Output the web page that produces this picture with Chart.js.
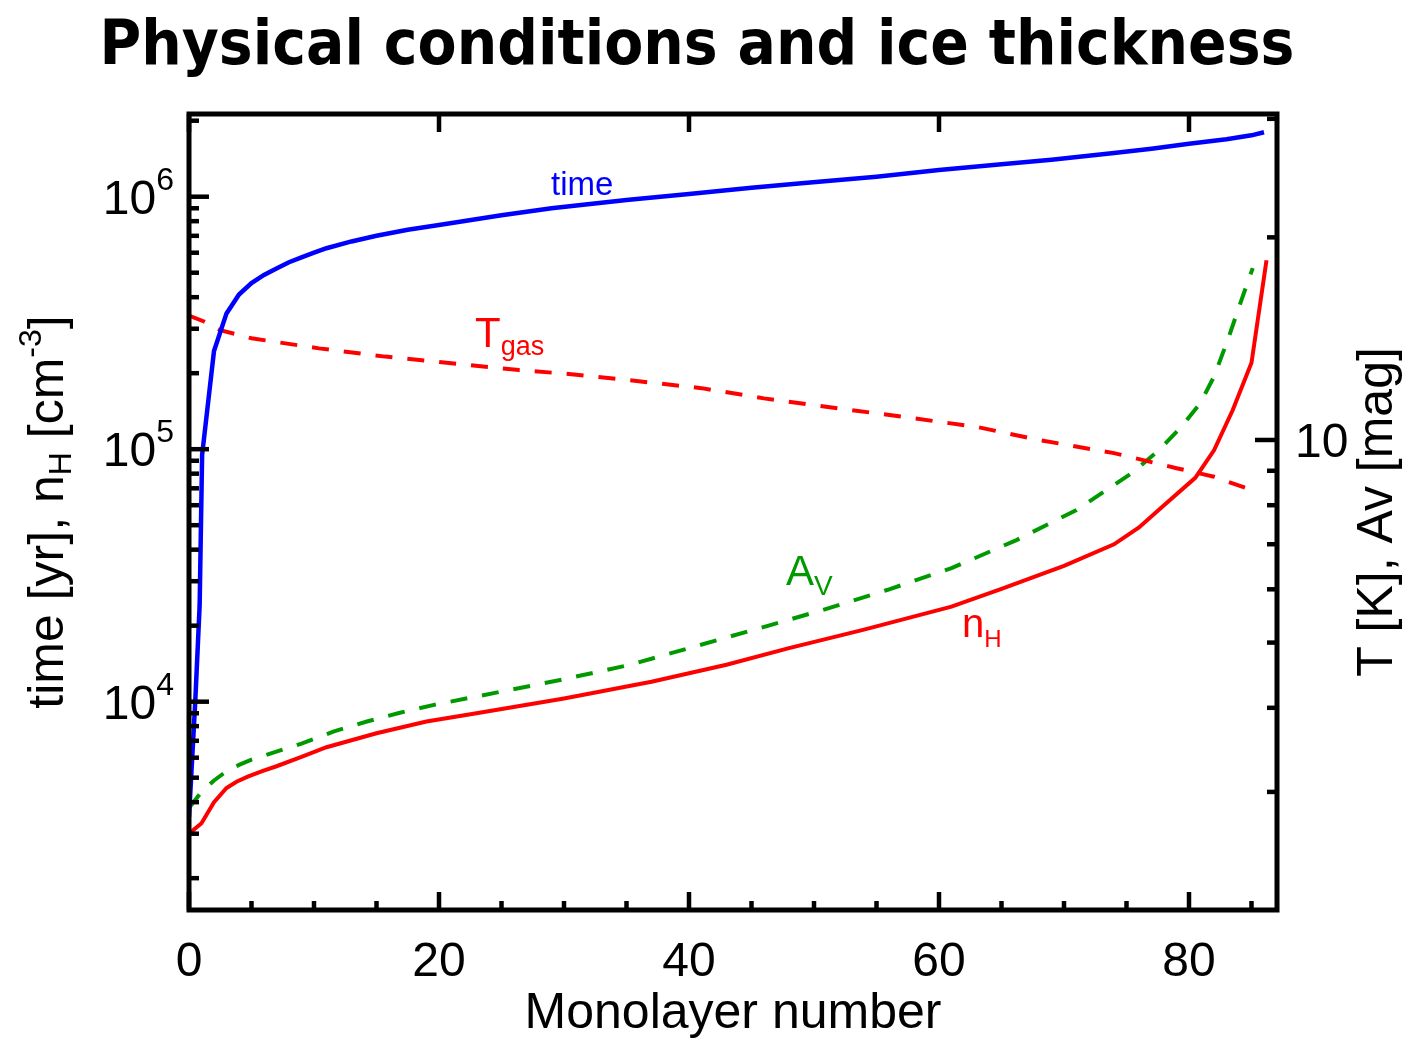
<!DOCTYPE html>
<html>
<head>
<meta charset="utf-8">
<title>Physical conditions and ice thickness</title>
<script src="https://cdn.jsdelivr.net/npm/chart.js@4.4.0/dist/chart.umd.min.js"></script>
<style>
  body { margin: 0; background: #fff; }
  canvas { display: block; }
</style>
</head>
<body>
<canvas id="chart" width="1422" height="1039"></canvas>
<script>

// time [yr] vs monolayer
const timeLayer = [0, 0.5, 0.85, 1.05, 2, 3, 4, 5, 6, 7, 8, 9, 10, 11, 13, 15, 17.5, 20, 25, 29, 35, 40, 45, 49, 55, 60, 65, 69, 74, 77, 80, 83, 85, 86]
const timeYears = [3500, 10000, 24000, 95000, 245000, 345000, 410000, 455000, 490000, 520000, 550000, 575000, 600000, 625000, 665000, 700000, 740000, 772000, 845000, 900000, 970000, 1026000, 1085000, 1130000, 1200000, 1276000, 1345000, 1400000, 1490000, 1550000, 1620000, 1690000, 1750000, 1800000]

// n_H [cm-3]
const nhLayer = [0, 1, 2, 3, 3.8, 4.7, 5.8, 7, 9, 11, 15, 19, 23, 30, 37, 43, 48, 54, 61, 65, 70, 74, 76, 78, 80.5, 82, 83.5, 85, 86.2]
const nhDensity = [3000, 3300, 4000, 4550, 4820, 5050, 5300, 5550, 6050, 6600, 7500, 8350, 9000, 10300, 12000, 14000, 16300, 19300, 23800, 28000, 34500, 42000, 49000, 60000, 77000, 99000, 143000, 220000, 560000]

// T_gas [K]
const tgasLayer = [0, 1.2, 2.5, 5, 10.4, 15.7, 21, 26.4, 30, 35, 41, 46, 52, 57, 63, 68, 74, 79, 80.5, 82, 85.2]
const tgasKelvin = [15.3, 15.0, 14.56, 14.16, 13.68, 13.3, 13.0, 12.7, 12.55, 12.28, 11.94, 11.53, 11.14, 10.83, 10.46, 10.0, 9.56, 9.08, 8.95, 8.82, 8.4]

// A_V [mag]
const avLayer = [0, 1, 2, 3, 4, 5, 6.5, 9, 11.6, 14.3, 16.8, 19.6, 29.7, 35.2, 40.4, 45.6, 50.7, 55.9, 61, 66.2, 71, 75.4, 77.6, 79.4, 80.9, 82, 83.1, 84.2, 85.1]
const avMag = [2.84, 3.0, 3.12, 3.22, 3.29, 3.35, 3.42, 3.54, 3.69, 3.82, 3.93, 4.04, 4.40, 4.63, 4.93, 5.25, 5.59, 5.99, 6.45, 7.10, 7.87, 8.92, 9.66, 10.47, 11.34, 12.42, 14.08, 16.15, 18.0]

// axis ticks
const xMajor = [0, 20, 40, 60, 80]
const xMinorStep = 5
const leftDecades = [3, 4, 5, 6]
const leftLabelled = [4, 5, 6]
const rightLabels = [10]

const sans = "'Liberation Sans', Arial, Helvetica, sans-serif"

function pts(xs, ys) {
  return xs.map((x, i) => ({ x: x, y: ys[i] }))
}

function runWidth(ctx, runs) {
  let w = 0
  runs.forEach(r => {
    ctx.font = `${r[1]}px ${sans}`
    w += ctx.measureText(r[0]).width
  })
  return w
}

// draws a row of text pieces, each with its own size and baseline shift (sub/superscripts)
function drawRuns(ctx, runs, x, y, align) {
  let cx = x
  if (align === 'center') cx = x - runWidth(ctx, runs) / 2
  if (align === 'right') cx = x - runWidth(ctx, runs)
  ctx.textAlign = 'left'
  ctx.textBaseline = 'alphabetic'
  runs.forEach(r => {
    ctx.font = `${r[1]}px ${sans}`
    ctx.fillText(r[0], cx, y + r[2])
    cx += ctx.measureText(r[0]).width
  })
}

const frame = {
  id: 'frame',
  afterDatasetsDraw(chart) {
    const { ctx, chartArea: a, scales } = chart
    const x = scales.x, yl = scales.y, yr = scales.y2

    ctx.save()
    ctx.strokeStyle = '#000'
    ctx.fillStyle = '#000'
    ctx.lineWidth = 4.5
    ctx.lineCap = 'butt'

    const tick = (x1, y1, x2, y2) => {
      ctx.beginPath()
      ctx.moveTo(x1, y1)
      ctx.lineTo(x2, y2)
      ctx.stroke()
    }

    // bottom + top ticks
    for (let v = 0; v <= x.max; v += xMinorStep) {
      const px = x.getPixelForValue(v)
      const major = xMajor.includes(v)
      tick(px, a.bottom, px, a.bottom - (major ? 18 : 9))
      if (major) tick(px, a.top, px, a.top + 18)
    }

    // left log ticks
    leftDecades.forEach(e => {
      for (let m = 1; m <= 9; m++) {
        const v = m * Math.pow(10, e)
        if (v < yl.min || v > yl.max) continue
        const py = yl.getPixelForValue(v)
        tick(a.left, py, a.left + (m === 1 ? 20 : 10), py)
      }
    })

    // right log ticks
    ;[0, 1].forEach(e => {
      for (let m = 1; m <= 9; m++) {
        const v = m * Math.pow(10, e)
        if (v < yr.min || v > yr.max) continue
        const py = yr.getPixelForValue(v)
        tick(a.right, py, a.right - (m === 1 ? 22 : 10), py)
      }
    })

    ctx.lineWidth = 5
    ctx.strokeRect(a.left, a.top, a.right - a.left, a.bottom - a.top)

    // tick labels
    xMajor.forEach(v => {
      ctx.font = `48px ${sans}`
      ctx.textAlign = 'center'
      ctx.fillText(String(v), x.getPixelForValue(v), 976)
    })
    leftLabelled.forEach(e => {
      const py = yl.getPixelForValue(Math.pow(10, e))
      drawRuns(ctx, [['10', 48, 0], [String(e), 32, -24]], 174, py + 17, 'right')
    })
    rightLabels.forEach(v => {
      const py = yr.getPixelForValue(v)
      drawRuns(ctx, [[String(v), 48, 0]], 1295, py + 17, 'left')
    })

    // axis titles
    drawRuns(ctx, [['Monolayer number', 50, 0]], (a.left + a.right) / 2, 1028, 'center')

    ctx.save()
    ctx.translate(63, (a.top + a.bottom) / 2)
    ctx.rotate(-Math.PI / 2)
    drawRuns(ctx, [['time [yr], n', 50, 0], ['H', 32, 8], [' [cm', 50, 0], ['-3', 32, -22], [']', 50, 0]], 0, 0, 'center')
    ctx.restore()

    ctx.save()
    ctx.translate(1392, (a.top + a.bottom) / 2)
    ctx.rotate(-Math.PI / 2)
    drawRuns(ctx, [['T [K], Av [mag]', 50, 0]], 0, 0, 'center')
    ctx.restore()

    // curve labels
    ctx.fillStyle = '#0000ff'
    drawRuns(ctx, [['time', 33, 0]], 551, 195, 'left')
    ctx.fillStyle = '#ff0000'
    drawRuns(ctx, [['T', 42, 0], ['gas', 27, 8]], 475, 347, 'left')
    drawRuns(ctx, [['n', 40, 0], ['H', 24, 10]], 962, 637, 'left')
    ctx.fillStyle = '#009a00'
    drawRuns(ctx, [['A', 42, 0], ['V', 28, 10]], 786, 585, 'left')

    // title
    ctx.fillStyle = '#000'
    ctx.font = "bold 62px 'DejaVu Sans', sans-serif"
    ctx.textAlign = 'center'
    ctx.fillText('Physical conditions and ice thickness', 697, 64, 1195)
    ctx.restore()
  }
}

document.addEventListener('DOMContentLoaded', function () {
  const ctx = document.getElementById('chart').getContext('2d')

  new Chart(ctx, {
    type: 'line',
    data: {
      datasets: [
        { data: pts(timeLayer, timeYears), yAxisID: 'y', borderColor: '#0000ff', borderWidth: 4.5 },
        { data: pts(nhLayer, nhDensity), yAxisID: 'y', borderColor: '#ff0000', borderWidth: 4 },
        { data: pts(tgasLayer, tgasKelvin), yAxisID: 'y2', borderColor: '#ff0000', borderWidth: 4, borderDash: [17, 15] },
        { data: pts(avLayer, avMag), yAxisID: 'y2', borderColor: '#009a00', borderWidth: 4, borderDash: [17, 15] }
      ]
    },
    options: {
      responsive: false,
      devicePixelRatio: 1,
      animation: false,
      layout: { padding: { left: 189, right: 145, top: 114, bottom: 129 } },
      elements: {
        point: { radius: 0 },
        line: { tension: 0, fill: false }
      },
      plugins: {
        legend: { display: false },
        title: { display: false },
        tooltip: { enabled: false }
      },
      scales: {
        x: { type: 'linear', min: 0, max: 87.04, display: false },
        y: { type: 'logarithmic', min: 1496, max: 2126000, display: false },
        y2: { type: 'logarithmic', min: 2.003, max: 30.5, display: false, position: 'right' }
      }
    },
    plugins: [frame]
  })
})
</script>
</body>
</html>
